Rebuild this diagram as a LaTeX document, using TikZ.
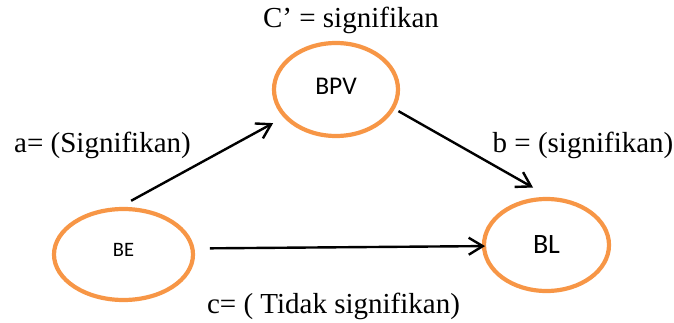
\documentclass[tikz,border=0pt]{standalone}
\usepackage{fontspec}
\setmainfont{Liberation Serif}
\newfontfamily\varsans{Carlito}
\usetikzlibrary{shapes.geometric,arrows.meta}
\definecolor{varorange}{RGB}{247,150,70}
\begin{document}
\begin{tikzpicture}[x=1pt,y=-1pt,
  var/.style={ellipse, draw=varorange, line width=4.2pt, inner sep=0pt, outer sep=0pt},
  effect/.style={draw=black, line width=2.4pt, -{Straight Barb[length=14pt,width=17pt]}},
  coef/.style={inner sep=0pt, anchor=base, font=\fontsize{29}{34}\selectfont}]
\useasboundingbox (0,0) rectangle (674,323);

% variables
\node[var, minimum width=139pt, minimum height=91pt, text depth=10pt,
      font=\varsans\fontsize{20.5}{24}\selectfont] (be) at (123.5,254.5) {BE};
\node[var, minimum width=124pt, minimum height=93pt, text depth=5.6pt,
      font=\varsans\fontsize{25.5}{30}\selectfont] (bpv) at (336,89.5) {BPV};
\node[var, minimum width=125pt, minimum height=92pt,
      font=\varsans\fontsize{28}{32}\selectfont] (bl) at (546.5,245) {BL};

% paths
\draw[effect, shorten <=17.8pt, shorten >=14pt] (be.100) -- (bpv.208);
\draw[effect, shorten <=6.4pt, shorten >=23.8pt] (bpv.-18) -- (bl.81);
\draw[effect, shorten <=17.6pt, shorten >=-1pt] (be.5) -- (bl.181);

% coefficients
\node[coef] (cprime) at (351,28) {C’ = signifikan};
\node[coef] (alab) at (102.5,153) {a= (Signifikan)};
\node[coef] (blab) at (583,153) {b = (signifikan)};
\node[coef] (clab) at (333.5,313) {c= ( Tidak signifikan)};
\end{tikzpicture}
\end{document}
